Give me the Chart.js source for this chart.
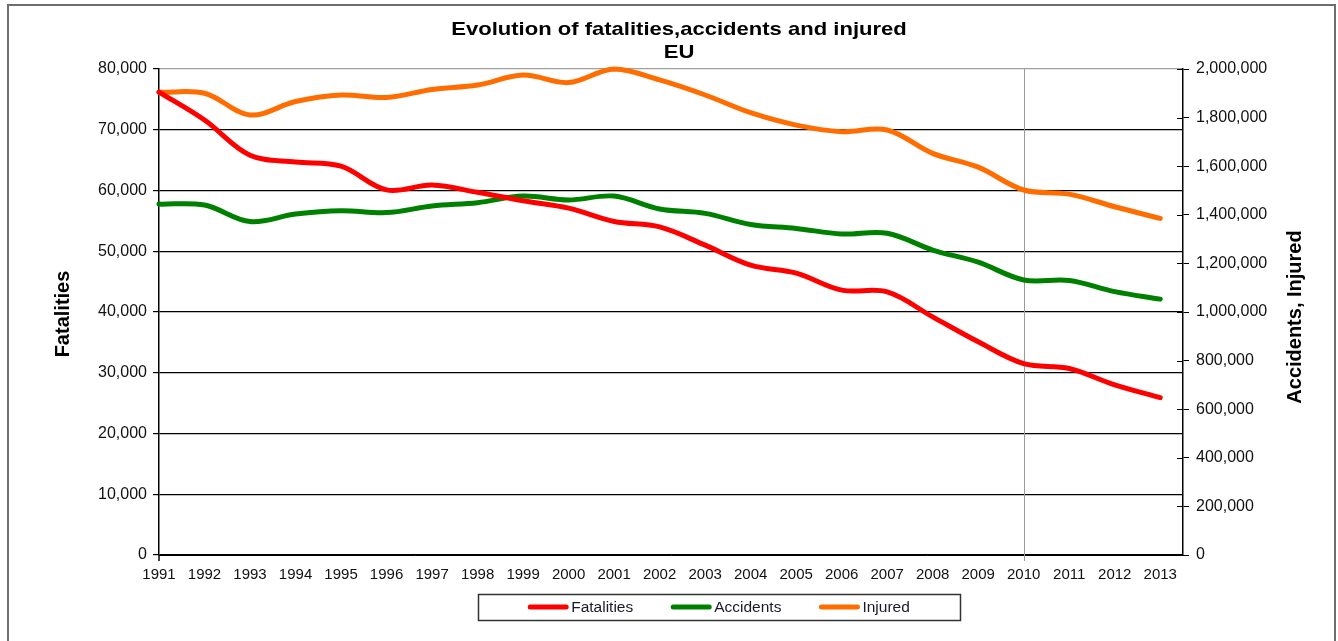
<!DOCTYPE html>
<html>
<head>
<meta charset="utf-8">
<script src="https://cdn.jsdelivr.net/npm/chart.js@4.4.1/dist/chart.umd.min.js"></script>
<style>
  body { margin: 0; background: #fff; }
  canvas { display: block; }
</style>
</head>
<body>
<canvas id="roadChart" width="1338" height="641"></canvas>
<script>
// years on the x axis
const years = [1991,1992,1993,1994,1995,1996,1997,1998,1999,2000,2001,2002,2003,2004,2005,2006,2007,2008,2009,2010,2011,2012,2013];

// values
const fatalities = [76200,71600,65800,64700,64000,60100,60900,59700,58300,57100,54900,54000,51000,47700,46400,43600,43300,39200,35100,31500,30700,28000,25900];
const accidents = [1444000,1440000,1372000,1403000,1417000,1409000,1436000,1450000,1477000,1461000,1477000,1424000,1406000,1360000,1344000,1321000,1324000,1255000,1205000,1132000,1130000,1084000,1053000];
const injured = [1904000,1900000,1811000,1866000,1893000,1883000,1916000,1934000,1975000,1944000,2000000,1955000,1893000,1820000,1769000,1742000,1749000,1653000,1596000,1502000,1485000,1433000,1385000];

const leftTicks = [0,10000,20000,30000,40000,50000,60000,70000,80000];
const rightTicks = [0,200000,400000,600000,800000,1000000,1200000,1400000,1600000,1800000,2000000];
const markedYear = 2010;

const titleLines = ["Evolution of fatalities,accidents and injured", "EU"];
const FONT = "'Liberation Sans', Arial, sans-serif";

function toPoints(values) {
    return values.map((v, i) => ({ x: years[i], y: v }));
}
function fmt(v) {
    return Number(v).toLocaleString("en-US");
}

/* ============================
   EXTRA DRAWING (frame, titles, legend box)
============================ */
const decorations = {
    id: "decorations",
    beforeDatasetsDraw(chart) {
        const ctx = chart.ctx;
        const area = chart.chartArea;
        const x = chart.scales.x;
        // grey vertical line at 2010
        const px = Math.round(x.getPixelForValue(markedYear)) + 0.5;
        ctx.save();
        ctx.strokeStyle = "#9a9a9a";
        ctx.lineWidth = 1;
        ctx.beginPath();
        ctx.moveTo(px, area.top);
        ctx.lineTo(px, area.bottom + 6);
        ctx.stroke();
        ctx.restore();
    },
    afterDraw(chart) {
        const ctx = chart.ctx;
        const area = chart.chartArea;
        ctx.save();

        // outer frame
        ctx.strokeStyle = "#6e6e6e";
        ctx.lineWidth = 2;
        ctx.strokeRect(8, 5, 1327, 700);

        // left axis line goes a bit below zero
        ctx.strokeStyle = "#000";
        ctx.lineWidth = 1.5;
        ctx.beginPath();
        ctx.moveTo(area.left, area.bottom);
        ctx.lineTo(area.left, area.bottom + 6);
        ctx.stroke();

        // right axis ticks cross the axis
        const yr = chart.scales.yRight;
        ctx.lineWidth = 1;
        yr.ticks.forEach(t => {
            const py = Math.round(yr.getPixelForValue(t.value)) + 0.5;
            ctx.beginPath();
            ctx.moveTo(area.right - 6, py);
            ctx.lineTo(area.right, py);
            ctx.stroke();
        });

        // title (a little wider than the plain font, like the original)
        ctx.fillStyle = "#000";
        ctx.textAlign = "center";
        ctx.textBaseline = "middle";
        ctx.font = "bold 19px " + FONT;
        ctx.save();
        ctx.translate(679, 0);
        ctx.scale(1.16, 1);
        ctx.fillText(titleLines[0], 0, 30);
        ctx.fillText(titleLines[1], 0, 53);
        ctx.restore();

        // axis titles
        ctx.font = "bold 20px " + FONT;
        ctx.save();
        ctx.translate(63, (area.top + area.bottom) / 2 + 2);
        ctx.rotate(-Math.PI / 2);
        ctx.fillText("Fatalities", 0, 0);
        ctx.restore();
        ctx.save();
        ctx.translate(1295, (area.top + area.bottom) / 2 + 5);
        ctx.rotate(-Math.PI / 2);
        ctx.fillText("Accidents, Injured", 0, 0);
        ctx.restore();

        // legend
        const sets = chart.data.datasets;
        ctx.font = "15.5px " + FONT;
        const lineLen = 40, textGap = 3, itemGap = 38;
        const widths = sets.map(d => lineLen + textGap + ctx.measureText(d.label).width);
        const total = widths.reduce((a, b) => a + b, 0) + itemGap * (sets.length - 1);
        const cx = 719, ly = 607;
        ctx.strokeStyle = "#333";
        ctx.lineWidth = 1.5;
        ctx.strokeRect(478.5, 594.5, 482, 26);
        let lx = cx - total / 2;
        sets.forEach((d, i) => {
            ctx.strokeStyle = d.borderColor;
            ctx.lineWidth = 5;
            ctx.lineCap = "round";
            ctx.beginPath();
            ctx.moveTo(lx + 2, ly);
            ctx.lineTo(lx + lineLen - 2, ly);
            ctx.stroke();
            ctx.fillStyle = "#1a1a2a";
            ctx.textAlign = "left";
            ctx.fillText(d.label, lx + lineLen + textGap, ly + 1);
            lx += widths[i] + itemGap;
        });
        ctx.restore();
    }
};

/* ============================
   CHART SETUP
============================ */
const ctx = document.getElementById("roadChart").getContext("2d");

const lineStyle = {
    borderWidth: 5,
    pointRadius: 0,
    tension: 0.35,
    borderCapStyle: "round",
    clip: false
};

new Chart(ctx, {
    type: "line",
    data: {
        datasets: [
            { label: "Fatalities", data: toPoints(fatalities), borderColor: "#ff0000", yAxisID: "y", ...lineStyle },
            { label: "Accidents", data: toPoints(accidents), borderColor: "#008000", yAxisID: "yRight", ...lineStyle },
            { label: "Injured", data: toPoints(injured), borderColor: "#ff6c00", yAxisID: "yRight", ...lineStyle }
        ]
    },
    options: {
        responsive: false,
        animation: false,
        devicePixelRatio: 1,
        layout: { padding: { top: 69, bottom: 56, left: 0, right: 0 } },
        plugins: {
            legend: { display: false },
            title: { display: false },
            tooltip: { enabled: false }
        },
        scales: {
            x: {
                type: "linear",
                min: years[0],
                max: years[years.length - 1] + 0.5,
                afterBuildTicks: s => { s.ticks = years.map(v => ({ value: v })); },
                afterFit: s => { s.height = 30; },
                grid: { display: false },
                border: { display: true, color: "#000", width: 1 },
                ticks: {
                    autoSkip: false,
                    maxRotation: 0,
                    padding: 3,
                    color: "#111",
                    font: { family: FONT, size: 15 },
                    callback: v => String(v)
                }
            },
            y: {
                position: "left",
                min: 0,
                max: 80000,
                afterBuildTicks: s => { s.ticks = leftTicks.map(v => ({ value: v })); },
                afterFit: s => { s.width = 159; },
                grid: {
                    color: c => (c.tick && c.tick.value === 80000 ? "#a0a0a0" : "#000"),
                    tickColor: "#000",
                    tickLength: 6,
                    lineWidth: 1.2
                },
                border: { display: true, color: "#000", width: 1.5 },
                ticks: {
                    padding: 6,
                    color: "#111",
                    font: { family: FONT, size: 16 },
                    callback: v => fmt(v)
                }
            },
            yRight: {
                position: "right",
                min: 0,
                max: 2000000,
                afterBuildTicks: s => { s.ticks = rightTicks.map(v => ({ value: v })); },
                afterFit: s => { s.width = 155; },
                grid: { drawOnChartArea: false, tickColor: "#000", tickLength: 6 },
                border: { display: true, color: "#000", width: 1.5 },
                ticks: {
                    padding: 7,
                    color: "#111",
                    font: { family: FONT, size: 16 },
                    callback: v => fmt(v)
                }
            }
        }
    },
    plugins: [decorations]
});
</script>
</body>
</html>
